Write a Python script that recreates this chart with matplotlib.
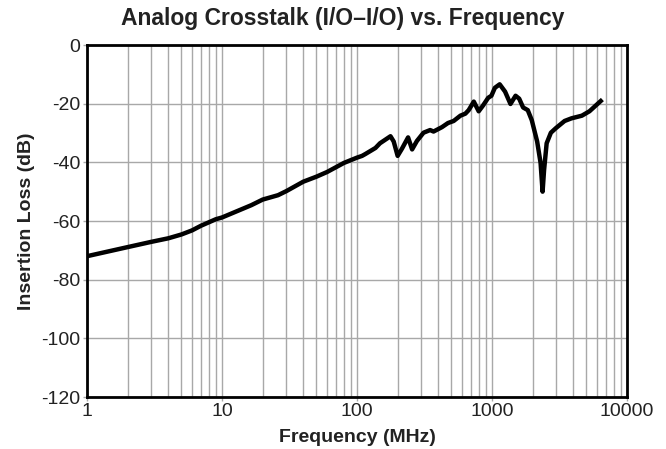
import matplotlib
matplotlib.use("Agg")
import matplotlib.pyplot as plt
from matplotlib.ticker import FixedLocator, LogLocator, NullFormatter

# frequency (MHz) and crosstalk (dB)
freq_mhz = [1, 2, 3, 4, 5, 6, 7, 9, 10, 16.5, 20, 26, 30, 40, 50, 60, 80,
            100, 109, 115, 137, 148, 177, 187, 200, 215, 239, 256, 278, 311,
            348, 369, 426, 472, 520, 583, 635, 672, 733, 797, 856, 937, 990,
            1050, 1140, 1250, 1370, 1495, 1590, 1700, 1840, 1970, 2160, 2290,
            2370, 2430, 2540, 2730, 2980, 3450, 3880, 4630, 5270, 5850, 6390]
loss_db = [-72, -68.9, -67.1, -65.9, -64.6, -63.2, -61.6, -59.4, -58.8, -54.6,
           -52.7, -51.2, -49.8, -46.6, -44.9, -43.3, -40.2, -38.4, -37.8, -37.2,
           -35.1, -33.5, -31.1, -32.9, -37.8, -35.4, -31.5, -35.6, -32.7, -29.9,
           -29.0, -29.5, -28.0, -26.6, -25.9, -24.1, -23.4, -22.2, -19.3, -22.6,
           -20.7, -18.0, -17.3, -14.6, -13.4, -15.9, -20.1, -17.3, -18.3, -21.3,
           -22.2, -25.6, -32.9, -40.2, -50.0, -42.7, -33.5, -29.9, -28.3, -25.9,
           -25.0, -24.1, -22.6, -20.7, -19.1]

x_ticks = [1, 10, 100, 1000, 10000]
x_tick_labels = ["1", "10", "100", "1000", "10000"]
y_ticks = [0, -20, -40, -60, -80, -100, -120]

plt.rcParams['font.family'] = ['Liberation Sans Narrow', 'Liberation Sans',
                               'DejaVu Sans']

fig = plt.figure(figsize=(6.66, 4.49), dpi=100)
ax = fig.add_axes([87 / 666, 1 - 397 / 449, 540 / 666, 352 / 449])

ax.plot(freq_mhz, loss_db, color="black", linewidth=3.2, solid_joinstyle="round",
        zorder=3)

ax.set_xscale("log")
ax.set_xlim(1, 10000)
ax.set_ylim(-120, 0)
ax.xaxis.set_major_locator(FixedLocator(x_ticks))
ax.set_xticklabels(x_tick_labels)
ax.xaxis.set_minor_locator(LogLocator(base=10, subs=range(2, 10), numticks=20))
ax.xaxis.set_minor_formatter(NullFormatter())
ax.set_yticks(y_ticks)
ax.set_yticklabels([str(v) for v in y_ticks])

ax.grid(which="major", color="#a8a8a8", linewidth=1)
ax.grid(which="minor", axis="x", color="#a8a8a8", linewidth=1)
ax.set_axisbelow(True)

ax.tick_params(axis="both", which="major", labelsize=14, length=3,
               color="#a8a8a8", width=1, pad=2, labelcolor="#222222")
ax.tick_params(axis="x", which="major", pad=1)
ax.tick_params(axis="x", which="minor", length=0)
for side in ax.spines.values():
    side.set_linewidth(2)
    side.set_color("black")

ax.set_xlabel("Frequency (MHz)", fontsize=14, fontweight="bold", labelpad=7,
              color="#222222")
ax.set_ylabel("Insertion Loss (dB)", fontsize=14, fontweight="bold", labelpad=4,
              color="#222222")
fig.text(343 / 666, 1 - 18 / 449, "Analog Crosstalk (I/O\u2013I/O) vs. Frequency",
         ha="center", va="center", fontsize=16.5, fontweight="bold",
         color="#222222")

fig.savefig("out.png", dpi=100)
